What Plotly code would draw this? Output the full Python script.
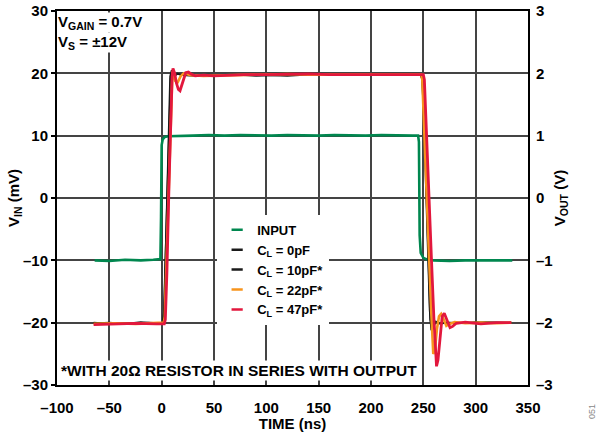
import plotly.graph_objects as go

FONT = "Liberation Sans, Arial, sans-serif"

# ---------------- data ----------------
input_t = [-64, -50, -35, -20, -8, -1.2, -0.6, 0.0, 1.0, 3.0, 6, 15, 30, 45, 60, 75, 90, 105, 120,
           135, 150, 165, 180, 195, 210, 225, 240, 245, 245.8, 246.5, 247.5, 250, 254, 260, 275,
           290, 305, 320, 335]
input_mv = [-10.0, -10.1, -9.9, -10.0, -9.9, -9.8, -3.0, 8.5, 9.4, 9.8, 9.9, 9.9, 10.0, 10.1, 10.0,
            10.1, 10.0, 10.0, 10.1, 10.0, 10.0, 10.1, 10.0, 10.0, 10.1, 10.0, 10.0, 10.0, 9.0, -6.0,
            -8.8, -9.6, -9.9, -10.0, -10.1, -10.0, -10.0, -10.1, -10.0]

cl0_t = [-65, -50, -35, -20, -5, 1.0, 2.0, 3.0, 5.0, 7.0, 8.5, 10, 12, 15, 20, 30, 45, 60, 80, 100,
         120, 140, 160, 180, 200, 220, 240, 248, 249.5, 251, 253, 255, 256.5, 258, 260, 263, 267,
         275, 290, 310, 334]
cl0_v = [-2.01, -2.00, -2.02, -1.99, -2.01, -2.00, -1.85, -1.20, 0.00, 1.30, 1.92, 2.03, 1.96,
         1.99, 1.97, 1.96, 1.98, 1.97, 1.98, 1.97, 1.96, 1.98, 1.97, 1.98, 1.97, 1.98, 1.97, 1.97,
         1.90, 1.30, 0.00, -1.30, -1.95, -2.08, -2.02, -1.99, -2.01, -2.00, -2.01, -1.99, -2.00]

cl10_t = [-65, -48, -30, -12, 0, 1.5, 2.5, 4.0, 6.0, 8.0, 9.5, 12, 15, 19, 25, 40, 55, 70, 90, 110,
          130, 150, 170, 190, 210, 230, 247, 248.5, 250, 252, 254, 256, 257.5, 259, 262, 266, 272,
          285, 300, 318, 334]
cl10_v = [-2.00, -2.02, -2.01, -2.00, -2.01, -1.98, -1.70, -0.70, 0.80, 1.95, 2.05, 1.95, 2.00,
          1.97, 1.98, 1.96, 1.97, 1.98, 1.96, 1.97, 1.98, 1.97, 1.99, 1.97, 1.98, 1.98, 1.98, 1.92,
          1.50, 0.40, -0.80, -1.80, -2.12, -2.10, -1.98, -2.02, -2.00, -2.01, -1.99, -2.01, -2.00]

cl22_t = [-65, -45, -25, -5, 2.0, 3.0, 5.0, 7.0, 9.0, 10.3, 11.5, 13, 15.5, 18, 21, 24, 28, 40, 60,
          80, 100, 120, 140, 160, 180, 200, 220, 240, 248, 249, 251, 253.7, 255.6, 257.5, 259.5,
          261, 263, 265, 267, 269.5, 272, 275, 280, 290, 305, 320, 334]
cl22_v = [-2.02, -2.01, -2.02, -2.01, -2.00, -1.90, -0.80, 0.50, 1.70, 2.03, 1.98, 1.88, 1.86,
          1.95, 2.00, 1.99, 1.97, 1.96, 1.97, 1.98, 1.98, 1.99, 1.98, 1.98, 1.99, 1.99, 1.98, 1.99,
          1.98, 1.90, 1.10, 0.00, -1.00, -1.80, -2.50, -2.45, -2.10, -1.90, -1.86, -1.95, -2.05,
          -2.02, -1.99, -2.01, -2.00, -2.01, -2.00]

cl47_t = [-65, -45, -25, -5, 2.5, 3.5, 5.0, 7.0, 9.0, 10.0, 10.8, 12.5, 14, 16, 17.5, 19, 21, 23,
          25.5, 28, 32, 40, 50, 65, 80, 100, 120, 140, 160, 180, 200, 220, 240, 249, 250, 251, 252,
          253.5, 255.5, 257.8, 260, 261.5, 262.6, 264, 266, 268, 270, 272.5, 275.5, 278, 281.5,
          290, 305, 320, 334]
cl47_v = [-2.03, -2.02, -2.01, -2.02, -2.02, -1.95, -1.20, 0.20, 1.50, 1.95, 2.08, 2.00, 1.85,
          1.74, 1.72, 1.80, 1.93, 2.01, 2.02, 1.99, 1.96, 1.97, 1.96, 1.97, 1.98, 1.98, 1.99, 1.99,
          1.98, 1.98, 1.99, 1.99, 1.99, 1.99, 1.98, 1.90, 1.50, 1.00, 0.00, -1.00, -1.90, -2.45,
          -2.70, -2.60, -2.20, -1.90, -1.85, -1.95, -2.08, -2.06, -2.01, -1.99, -2.02, -2.00, -2.00]

x_ticks = [-100, -50, 0, 50, 100, 150, 200, 250, 300, 350]
x_ticktext = ["–100", "–50", "0", "50", "100", "150", "200", "250", "300", "350"]
yin_ticks = [-30, -20, -10, 0, 10, 20, 30]
yin_ticktext = ["–30", "–20", "–10", "0", "10", "20", "30"]
yout_ticks = [-3, -2, -1, 0, 1, 2, 3]
yout_ticktext = ["–3", "–2", "–1", "0", "1", "2", "3"]

names = ["INPUT", "C<sub>L</sub> = 0pF", "C<sub>L</sub> = 10pF*",
         "C<sub>L</sub> = 22pF*", "C<sub>L</sub> = 47pF*"]
colors = ["#00874f", "#1a1a1a", "#1a1a1a", "#f7941d", "#e2173d"]

# ---------------- figure ----------------
fig = go.Figure()

fig.add_trace(go.Scatter(x=input_t, y=input_mv, mode="lines", yaxis="y",
                         line=dict(color=colors[0], width=2.6), showlegend=False))
fig.add_trace(go.Scatter(x=cl0_t, y=cl0_v, mode="lines", yaxis="y2",
                         line=dict(color=colors[1], width=1.6), showlegend=False))
fig.add_trace(go.Scatter(x=cl10_t, y=cl10_v, mode="lines", yaxis="y2",
                         line=dict(color=colors[2], width=1.6), showlegend=False))
fig.add_trace(go.Scatter(x=cl22_t, y=cl22_v, mode="lines", yaxis="y2",
                         line=dict(color=colors[3], width=2.6), showlegend=False))
fig.add_trace(go.Scatter(x=cl47_t, y=cl47_v, mode="lines", yaxis="y2",
                         line=dict(color=colors[4], width=2.8), showlegend=False))

# legend entries (short dash symbols)
for n, c in zip(names, colors):
    fig.add_trace(go.Scatter(x=[None], y=[None], mode="markers", name=n,
                             marker=dict(symbol="line-ew", size=8,
                                         line=dict(color=c, width=2.5)),
                             showlegend=True))

fig.update_layout(
    width=599, height=432,
    margin=dict(l=57, r=71, t=11, b=47),
    paper_bgcolor="white", plot_bgcolor="white",
    font=dict(family=FONT, size=15, color="black", weight="bold"),
    xaxis=dict(range=[-100, 350], tickmode="array", tickvals=x_ticks, ticktext=x_ticktext,
               showgrid=True, gridcolor="#444444", gridwidth=1.5,
               showline=True, linecolor="black", linewidth=2, mirror=True,
               ticks="outside", ticklen=8, tickcolor="rgba(0,0,0,0)", zeroline=False,
               automargin=False,
               title=dict(text="TIME (ns)", standoff=0, font=dict(size=15))),
    yaxis=dict(range=[-30, 30], tickmode="array", tickvals=yin_ticks, ticktext=yin_ticktext,
               showgrid=True, gridcolor="#444444", gridwidth=1.5,
               showline=True, linecolor="black", linewidth=2, mirror=True,
               ticks="outside", ticklen=4, tickcolor="black", tickwidth=1.5,
               zeroline=False, automargin=False,
               title=dict(text="V<sub>IN</sub> (mV)", standoff=0, font=dict(size=15))),
    yaxis2=dict(range=[-3, 3], tickmode="array", tickvals=yout_ticks, ticktext=yout_ticktext,
                overlaying="y", side="right", showgrid=False, zeroline=False,
                showline=False, ticks="outside", ticklen=4, tickcolor="rgba(0,0,0,0)",
                automargin=False,
                title=dict(text="V<sub>OUT</sub> (V)", standoff=2, font=dict(size=15))),
    legend=dict(x=0.34, y=0.455, xanchor="left", yanchor="top",
                bgcolor="white", borderwidth=0, font=dict(size=13),
                traceorder="normal", tracegroupgap=0),
    annotations=[
        dict(xref="paper", yref="paper", x=0.0, y=0.944, xanchor="left", yanchor="top",
             text="V<sub>S</sub> = ±12V", showarrow=False,
             align="left", bgcolor="white", font=dict(size=15), borderpad=0),
        dict(xref="paper", yref="paper", x=0.0, y=0.998, xanchor="left", yanchor="top",
             text="V<sub>GAIN</sub> = 0.7V", showarrow=False,
             align="left", bgcolor="white", font=dict(size=15), borderpad=0),
        dict(xref="paper", yref="paper", x=0.004, y=0.012, xanchor="left", yanchor="bottom",
             text="*WITH 20Ω RESISTOR IN SERIES WITH OUTPUT", showarrow=False,
             align="left", bgcolor="white", font=dict(size=15.5), borderpad=1),
        dict(xref="paper", yref="paper", x=1.136, y=-0.072, xanchor="center", yanchor="middle",
             text="051", textangle=-90, showarrow=False,
             font=dict(size=9, color="#888888", weight="normal")),
    ],
)

# remove the browser's default 8px page margin so the figure sits at the window origin
fig.write_html("out.html", config={"displayModeBar": False},
               post_script="document.body.style.margin='0';")
